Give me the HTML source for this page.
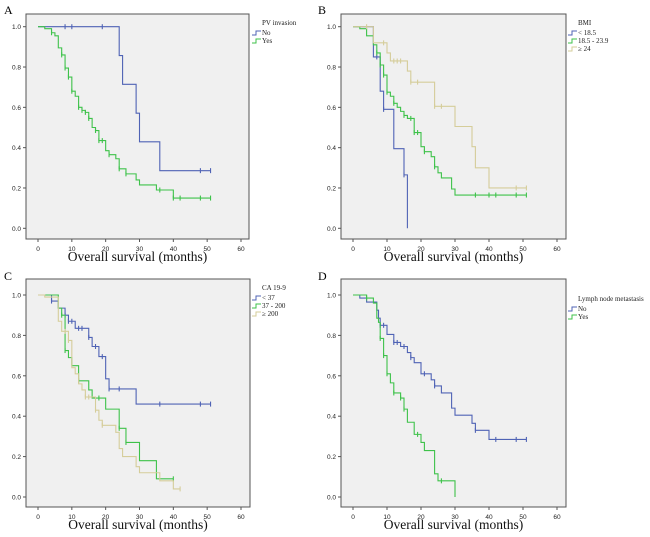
<!DOCTYPE html>
<html><head><meta charset="utf-8"><style>
body{margin:0;background:#fff;width:650px;height:537px;overflow:hidden}
svg{display:block}
</style></head><body>
<svg id="fig" width="650" height="537" xmlns="http://www.w3.org/2000/svg"></svg>
<script>
const xTicks=[0,10,20,30,40,50,60];
const yTicks=[0,0.2,0.4,0.6,0.8,1.0];
// Panel A
const aNoT=[0,24,25,29,30,36,51], aNoS=[1,0.857,0.714,0.571,0.429,0.286,0.286], aNoC=[8,10,19,48,51];
const aYesT=[0,2,4,5,6,7,8,9,10,11,12,13,14,15,16,17,18,20,21,23,24,26,29,30,35,40,51];
const aYesS=[1,0.99,0.97,0.955,0.895,0.86,0.795,0.75,0.68,0.655,0.60,0.585,0.575,0.545,0.50,0.485,0.435,0.385,0.365,0.345,0.295,0.27,0.24,0.215,0.19,0.15,0.15];
const aYesC=[4,7,8,9,10,12,13,14,15,17,18,19,21,24,26,36,40,42,48,51];
// Panel B
const bLowT=[0,6,8,9,12,15,16], bLowS=[1,0.85,0.68,0.59,0.395,0.265,0], bLowC=[7,9,15];
const bMidT=[0,2,4,6,7,8,9,10,11,12,13,14,15,16,18,20,21,23,24,25,26,29,30,51];
const bMidS=[1,0.99,0.955,0.91,0.87,0.81,0.76,0.675,0.655,0.62,0.60,0.58,0.56,0.545,0.475,0.405,0.38,0.355,0.305,0.275,0.25,0.195,0.165,0.165];
const bMidC=[7,8,9,10,12,15,17,18,19,21,24,36,40,42,48,51];
const bHighT=[0,6,10,11,16,17,24,30,35,36,40,51], bHighS=[1,0.92,0.87,0.83,0.78,0.725,0.605,0.505,0.405,0.30,0.20,0.20];
const bHighC=[4,9,12,13,14,17,19,24,26,48,51];
// Panel C
const cLowT=[0,4,6,8,9,11,15,16,18,20,21,29,51], cLowS=[1,0.97,0.935,0.90,0.87,0.835,0.79,0.745,0.695,0.585,0.535,0.46,0.46];
const cLowC=[4,8,9,10,12,13,15,17,19,21,24,36,48,51];
const cMidT=[0,6,7,8,9,10,12,15,16,20,24,26,30,35,40], cMidS=[1,0.935,0.90,0.725,0.69,0.65,0.575,0.53,0.49,0.435,0.34,0.27,0.18,0.09,0.09];
const cMidC=[7,8,12,18,24,26,40];
const cHighT=[0,2,6,7,9,10,11,12,13,14,17,18,19,23,24,25,29,30,36,40,42];
const cHighS=[1,0.99,0.87,0.82,0.775,0.64,0.61,0.56,0.53,0.495,0.43,0.38,0.355,0.32,0.24,0.20,0.15,0.12,0.08,0.04,0.04];
const cHighC=[8,9,14,15,17,19,42];
// Panel D
const dNoT=[0,2,4,7,7.5,8,10,12,14,16,17,18,20,23,24,26,29,30,35,36,40,51];
const dNoS=[1,0.985,0.965,0.925,0.885,0.85,0.805,0.765,0.745,0.715,0.69,0.665,0.61,0.58,0.55,0.515,0.44,0.405,0.365,0.33,0.285,0.285];
const dNoC=[8,9,12,13,15,17,21,24,36,42,48,51];
const dYesT=[0,4,6,7,7.5,8,9,10,11,12,14,15,16,18,20,21,24,25,30];
const dYesS=[1,0.985,0.96,0.885,0.865,0.785,0.70,0.61,0.565,0.515,0.49,0.435,0.37,0.31,0.27,0.23,0.115,0.08,0];
const dYesC=[4,8,9,10,12,14,15,19,26];

const BLUE="#4f63b5",GREEN="#3ec24a",TAN="#d5cd9a";
const NS="http://www.w3.org/2000/svg";
const svg=document.getElementById('fig');
function mk(tag,attrs,parent){const e=document.createElementNS(NS,tag);for(const k in attrs)e.setAttribute(k,attrs[k]);(parent||svg).appendChild(e);return e;}

function panel(p){
  const g=mk('g',{});
  
  
  const sx=t=>p.x0+(p.x60-p.x0)*t/60;
  const sy=v=>p.y0+(p.y1-p.y0)*v;
  const lab=mk('text',{x:p.lx,y:p.ly,'font-family':'Liberation Serif, serif','font-size':12,fill:'#000'},g);
  lab.textContent=p.id;
  
  
  const box=mk('rect',{x:p.bx,y:p.by,width:p.bw,height:p.bh,fill:'#f0f0f0',stroke:'#555','stroke-width':1},g);
  
  
  xTicks.forEach(t=>{
    mk('line',{x1:sx(t),x2:sx(t),y1:p.by+p.bh,y2:p.by+p.bh+3,stroke:'#555'},g);
    const tx=mk('text',{x:sx(t),y:p.by+p.bh+12,'font-family':'Liberation Sans, sans-serif','font-size':6.5,'text-anchor':'middle',fill:'#222'},g);
    tx.textContent=t;
    
    
  });
  yTicks.forEach(v=>{
    mk('line',{x1:p.bx-3,x2:p.bx,y1:sy(v),y2:sy(v),stroke:'#555'},g);
    const ty=mk('text',{x:p.bx-5,y:sy(v)+2.5,'font-family':'Liberation Sans, sans-serif','font-size':6.5,'text-anchor':'end',fill:'#222'},g);
    ty.textContent=v.toFixed(1);
    
    
  });
  const at=mk('text',{x:p.bx+p.bw/2,y:p.by+p.bh+22,'font-family':'Liberation Serif, serif','font-size':13.5,'text-anchor':'middle',fill:'#111'},g);
  at.textContent='Overall survival (months)';
  
  
  p.series.forEach(s=>{
    let d='M'+sx(s.t[0])+','+sy(s.s[0]);
    for(let i=1;i<s.t.length;i++){d+=' H'+sx(s.t[i])+' V'+sy(s.s[i]);}
    const path=mk('path',{d:d,fill:'none',stroke:s.c,'stroke-width':1.1},g);
    
    
    s.cen.forEach(ct=>{
      let v=s.s[0];
      for(let i=0;i<s.t.length;i++){if(s.t[i]<=ct)v=s.s[i];}
      const m=mk('line',{x1:sx(ct),x2:sx(ct),y1:sy(v)-2.5,y2:sy(v)+2.5,stroke:s.c,'stroke-width':1.1},g);
      
      
    });
  });
  // legend
  const lg=mk('g',{},g);
  
  
  const lt=mk('text',{x:p.legX+10,y:p.legY,'font-family':'Liberation Serif, serif','font-size':7,fill:'#222'},lg);
  lt.textContent=p.legTitle;
  p.series.forEach((s,i)=>{
    const y=p.legY+8+i*8;
    mk('path',{d:`M${p.legX},${y+2} h4 v-4 h5`,fill:'none',stroke:s.c,'stroke-width':1},lg);
    const e=mk('text',{x:p.legX+10,y:y+2,'font-family':'Liberation Serif, serif','font-size':7,fill:'#222'},lg);
    e.textContent=s.label;
    
    
  });
}
panel({id:'A',lx:4,ly:14,bx:26,by:14,bw:223,bh:225,x0:38,x60:241,y0:228.3,y1:26.7,legX:252,legY:25,legTitle:'PV invasion',
 series:[{key:'no',c:BLUE,t:aNoT,s:aNoS,cen:aNoC,label:'No'},{key:'yes',c:GREEN,t:aYesT,s:aYesS,cen:aYesC,label:'Yes'}]});
panel({id:'B',lx:318,ly:14,bx:341,by:14,bw:225,bh:225,x0:353,x60:557,y0:228.3,y1:26.7,legX:568,legY:25,legTitle:'BMI',
 series:[{key:'low',c:BLUE,t:bLowT,s:bLowS,cen:bLowC,label:'< 18.5'},{key:'mid',c:GREEN,t:bMidT,s:bMidS,cen:bMidC,label:'18.5 - 23.9'},{key:'high',c:TAN,t:bHighT,s:bHighS,cen:bHighC,label:'≥ 24'}]});
panel({id:'C',lx:4,ly:280,bx:26,by:279,bw:224,bh:228,x0:38,x60:241,y0:497,y1:295,legX:252,legY:290,legTitle:'CA 19-9',
 series:[{key:'low',c:BLUE,t:cLowT,s:cLowS,cen:cLowC,label:'< 37'},{key:'mid',c:GREEN,t:cMidT,s:cMidS,cen:cMidC,label:'37 - 200'},{key:'high',c:TAN,t:cHighT,s:cHighS,cen:cHighC,label:'≥ 200'}]});
panel({id:'D',lx:318,ly:280,bx:341,by:279,bw:225,bh:228,x0:353,x60:557,y0:497,y1:295,legX:568,legY:301,legTitle:'Lymph node metastasis',
 series:[{key:'no',c:BLUE,t:dNoT,s:dNoS,cen:dNoC,label:'No'},{key:'yes',c:GREEN,t:dYesT,s:dYesS,cen:dYesC,label:'Yes'}]});
</script>
</body></html>
